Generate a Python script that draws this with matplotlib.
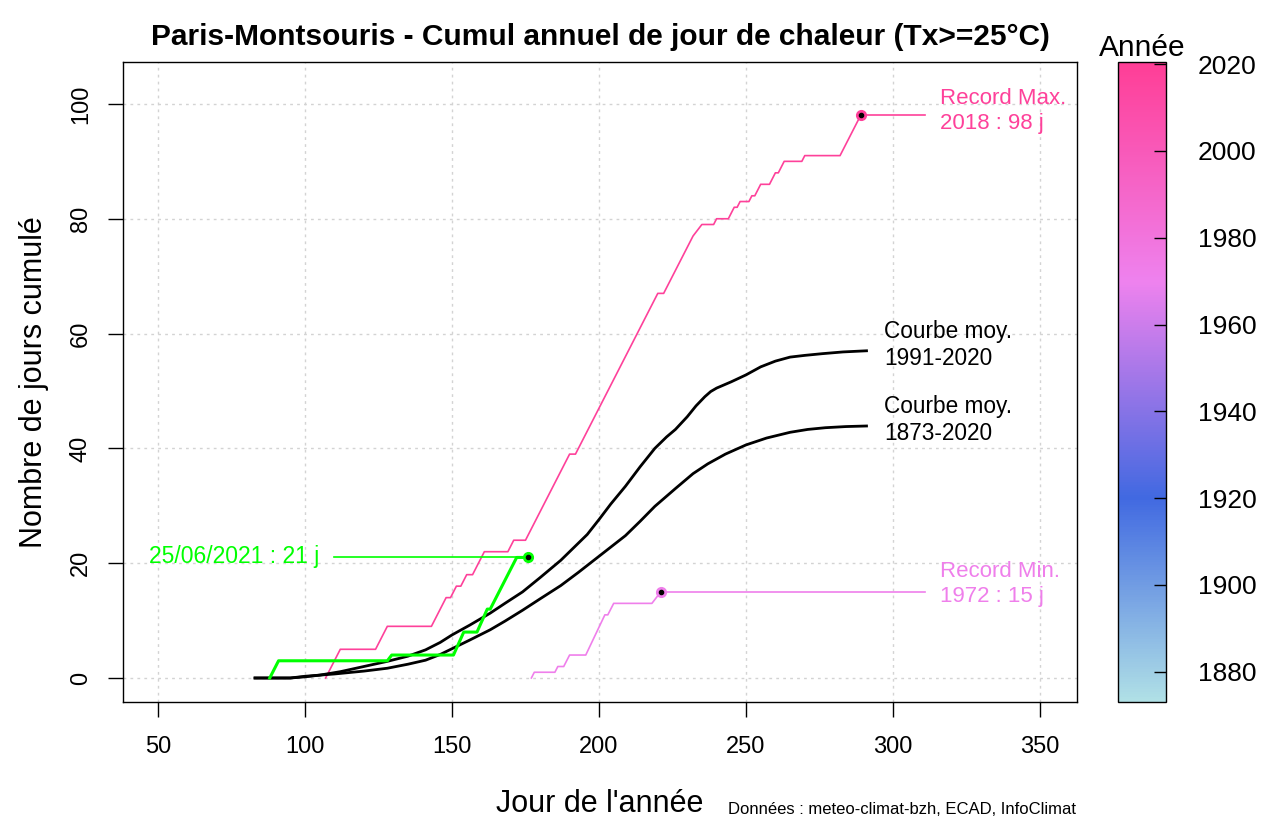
import numpy as np
import matplotlib
matplotlib.use("Agg")
import matplotlib.pyplot as plt
from matplotlib.colors import LinearSegmentedColormap, Normalize
from matplotlib.cm import ScalarMappable

plt.rcParams['font.family'] = ['Liberation Sans', 'DejaVu Sans']

# Record max 2018 (staircase vertices, day / cumulative days)
max_days = [107, 112, 124, 128, 143, 148, 149.5, 151.5, 153, 155, 157, 161, 169, 171, 175,
            190, 192, 220, 222, 231, 232, 235, 239, 240, 244, 246, 247, 248, 251, 252, 253,
            255, 258, 260, 261, 263, 269, 270, 282, 289]
max_vals = [0, 5, 5, 9, 9, 14, 14, 16, 16, 18, 18, 22, 22, 24, 24,
            39, 39, 67, 67, 76, 77, 79, 79, 80, 80, 82, 82, 83, 83, 84, 84,
            86, 86, 88, 88, 90, 90, 91, 91, 98]

# Record min 1972
min_days = [177, 178, 185, 186, 188, 190, 195.5, 202, 203, 205, 218, 219.5, 221]
min_vals = [0, 1, 1, 2, 2, 4, 4, 11, 11, 13, 13, 14, 15]

# 2021 so far
cur_days = [88, 91, 128, 129.5, 150.5, 154, 158.5, 162, 163, 172, 176]
cur_vals = [0, 3, 3, 4, 4, 8, 8, 12, 12, 21, 21]

# mean curve 1991-2020
m9120_days = [83, 95, 100, 105, 112, 120, 128, 135, 141, 146, 150, 156, 163, 168, 174, 180,
              187, 191, 196, 200, 204, 209, 214, 219, 223, 226, 230, 233, 236, 238, 240, 245,
              250, 255, 260, 265, 270, 276, 283, 291]
m9120_vals = [0, 0, 0.2, 0.5, 1.1, 2.0, 2.9, 3.8, 4.9, 6.2, 7.5, 9.2, 11.3, 13, 15, 17.5,
              20.5, 22.5, 25, 27.6, 30.3, 33.4, 36.8, 40, 42, 43.3, 45.5, 47.4, 49, 49.9, 50.5, 51.6,
              52.8, 54.2, 55.2, 55.9, 56.2, 56.5, 56.8, 57]

# mean curve 1873-2020
m7320_days = [83, 95, 100, 110, 120, 128, 135, 141, 146, 150, 156, 163, 168, 174, 180, 187,
              193, 198, 204, 209, 214, 219, 226, 232, 237, 243, 250, 257, 265, 271, 277, 284, 291]
m7320_vals = [0, 0, 0.3, 0.7, 1.2, 1.7, 2.4, 3.1, 4.1, 5.1, 6.6, 8.4, 9.9, 11.8, 13.8, 16.1,
              18.4, 20.4, 22.8, 24.8, 27.3, 29.9, 33, 35.6, 37.3, 39, 40.6, 41.8, 42.8, 43.3,
              43.6, 43.8, 43.9]

year_min, year_max = 1873, 2020.5
cmap = LinearSegmentedColormap.from_list(
    'annee',
    [(0.0, '#B0E0E6'), ((1920 - year_min) / (year_max - year_min), '#4169E1'),
     ((1970 - year_min) / (year_max - year_min), '#EE82EE'), (1.0, '#FF3E96')])
norm = Normalize(year_min, year_max)
col_max = cmap(norm(2018))
col_min = cmap(norm(1972))
green = '#00FF00'

fig = plt.figure(figsize=(12.75, 8.25), dpi=100)
ax = fig.add_axes([0.0965, 0.1491, 0.7482, 0.7757])

ax.set_xlim(38.1, 362.6)
ax.set_ylim(-4.18, 107.3)
ax.set_xticks([50, 100, 150, 200, 250, 300, 350])
ax.set_yticks([0, 20, 40, 60, 80, 100])
ax.grid(True, color='#D3D3D3', linestyle=(0, (2, 3)), linewidth=1)
ax.set_axisbelow(True)
ax.tick_params(labelsize=17, length=10.5, width=1)
ax.tick_params(axis='x', pad=14)
ax.tick_params(axis='y', pad=12)
for lab in ax.get_yticklabels():
    lab.set_rotation(90)
    lab.set_va('center')
for s in ax.spines.values():
    s.set_linewidth(1)

# records
ax.plot(max_days, max_vals, color=col_max, lw=1.2)
ax.plot([max_days[-1], 311], [max_vals[-1], max_vals[-1]], color=col_max, lw=1.2)
ax.plot(max_days[-1], max_vals[-1], 'o', color=col_max, ms=7)
ax.plot(max_days[-1], max_vals[-1], 'o', color='black', ms=3)
ax.text(316, max_vals[-1] + 0.7, "Record Max.\n2018 : 98 j", color=col_max, fontsize=16,
        va='center', ha='left', linespacing=1.25)

ax.plot(min_days, min_vals, color=col_min, lw=1.2)
ax.plot([min_days[-1], 311], [min_vals[-1], min_vals[-1]], color=col_min, lw=1.2)
ax.plot(min_days[-1], min_vals[-1], 'o', color=col_min, ms=7)
ax.plot(min_days[-1], min_vals[-1], 'o', color='black', ms=3)
ax.text(316, min_vals[-1] + 1.3, "Record Min.\n1972 : 15 j", color=col_min, fontsize=16,
        va='center', ha='left', linespacing=1.25)

# mean curves
ax.plot(m9120_days, m9120_vals, color='black', lw=2)
ax.plot(m7320_days, m7320_vals, color='black', lw=2)
ax.text(297, 58.0, "Courbe moy.\n1991-2020", fontsize=16.3, va='center', ha='left', linespacing=1.2)
ax.text(297, 44.9, "Courbe moy.\n1873-2020", fontsize=16.3, va='center', ha='left', linespacing=1.2)

# 2021
ax.plot(cur_days, cur_vals, color=green, lw=2.2)
ax.plot([110, cur_days[-1]], [cur_vals[-1], cur_vals[-1]], color=green, lw=1.2)
ax.plot(cur_days[-1], cur_vals[-1], 'o', color=green, ms=7)
ax.plot(cur_days[-1], cur_vals[-1], 'o', color='black', ms=3)
ax.text(105, 21.2, "25/06/2021 : 21 j", color=green, fontsize=16.5, va='center', ha='right')

ax.set_title("Paris-Montsouris - Cumul annuel de jour de chaleur (Tx>=25°C)",
             fontsize=21.5, fontweight='bold', pad=12)
ax.set_xlabel("Jour de l'année", fontsize=22, labelpad=22)
ax.set_ylabel("Nombre de jours cumulé", fontsize=22, labelpad=15)
fig.text(1076 / 1275, 1 - 810 / 825, "Données : meteo-climat-bzh, ECAD, InfoClimat",
         fontsize=12, ha='right', va='center')

# colorbar
cax = fig.add_axes([1118 / 1275, 0.1491, 48 / 1275, 0.7757])
cb = fig.colorbar(ScalarMappable(norm=norm, cmap=cmap), cax=cax)
cb.set_ticks([1880, 1900, 1920, 1940, 1960, 1980, 2000, 2020])
cax.tick_params(labelsize=19, direction='in', length=9, width=1, pad=23)
cb.outline.set_linewidth(1)
cax.set_title("Année", fontsize=21.5, pad=3)

fig.savefig('out.png', dpi=100)
